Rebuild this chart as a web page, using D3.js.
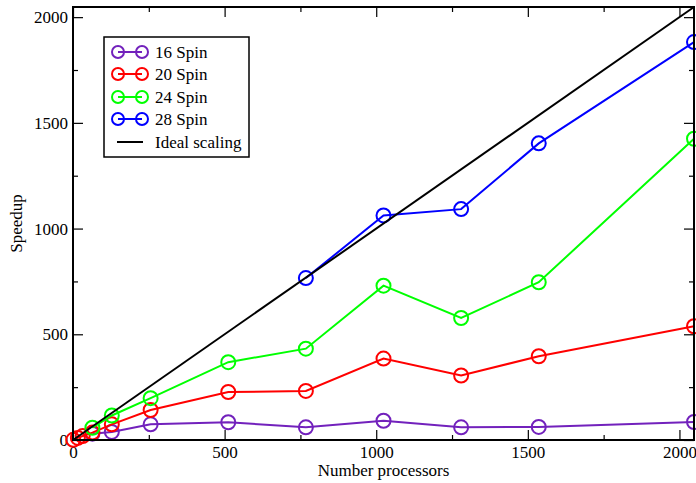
<!DOCTYPE html>
<html>
<head>
<meta charset="utf-8">
<script src="https://cdn.jsdelivr.net/npm/d3@7"></script>
<style>
  html, body { margin: 0; padding: 0; background: #fff; }
  svg { display: block; }
  text { font-family: "Liberation Serif", "Times New Roman", serif; fill: #000; }
</style>
</head>
<body>
<svg id="chart" width="696" height="483"></svg>
<script>
// ---- data ----
const seriesNames = ["16 Spin", "20 Spin", "24 Spin", "28 Spin"];
const seriesColors = ["#7221bc", "#ff0000", "#00ff00", "#0000ff"];
const procs16 = [64, 128, 256, 512, 768, 1024, 1280, 1536, 2048];
const speed16 = [30, 38, 74, 84, 60, 91, 60, 62, 85];
const procs20 = [1, 16, 32, 64, 128, 256, 512, 768, 1024, 1280, 1536, 2048];
const speed20 = [1, 10, 19, 35, 74, 142, 227, 232, 385, 305, 396, 538];
const procs24 = [64, 128, 256, 512, 768, 1024, 1280, 1536, 2048];
const speed24 = [58, 116, 198, 368, 432, 730, 577, 746, 1425];
const procs28 = [768, 1024, 1280, 1536, 2048];
const speed28 = [766, 1062, 1092, 1403, 1882];
const idealProcs = [0, 2048];
const idealSpeed = [0, 2048];
const xTickLabels = [0, 500, 1000, 1500, 2000];
const yTickLabels = [0, 500, 1000, 1500, 2000];
const minorTicks = [250, 750, 1250, 1750];
const idealLabel = "Ideal scaling";
const xTitle = "Number processors";
const yTitle = "Speedup";

const allProcs = [procs16, procs20, procs24, procs28];
const allSpeed = [speed16, speed20, speed24, speed28];

// ---- layout ----
const svg = d3.select("#chart");
const pL = 73, pR = 694, pT = 7, pB = 440;
const fs = "17px";
const x = d3.scaleLinear().domain([0, 2048]).range([pL, pR]);
const y = d3.scaleLinear().domain([0, 2048]).range([pB, pT]);

const majorLen = 10, minorLen = 5;

function addAxis(axisGen, transform, ticks, len, labels) {
  const g = svg.append("g").attr("transform", transform)
    .call(axisGen.tickValues(ticks).tickSizeInner(-len).tickSizeOuter(0)
      .tickFormat(labels ? d3.format("d") : () => ""));
  g.select(".domain").remove();
  g.selectAll(".tick line").attr("stroke", "#000").attr("stroke-width", 1.2);
  g.selectAll(".tick text").style("font-family", '"Liberation Serif", serif').style("font-size", fs).attr("fill", "#000");
  return g;
}
const gxb = addAxis(d3.axisBottom(x), `translate(0,${pB})`, xTickLabels, majorLen, true);
gxb.selectAll(".tick text").attr("y", 6).attr("dy", "0.71em");
addAxis(d3.axisBottom(x), `translate(0,${pB})`, minorTicks, minorLen, false);
addAxis(d3.axisTop(x), `translate(0,${pT})`, xTickLabels, majorLen, false);
addAxis(d3.axisTop(x), `translate(0,${pT})`, minorTicks, minorLen, false);
const gyl = addAxis(d3.axisLeft(y), `translate(${pL},0)`, yTickLabels, majorLen, true);
gyl.selectAll(".tick text").attr("x", -5);
addAxis(d3.axisLeft(y), `translate(${pL},0)`, minorTicks, minorLen, false);
addAxis(d3.axisRight(y), `translate(${pR},0)`, yTickLabels, majorLen, false);
addAxis(d3.axisRight(y), `translate(${pR},0)`, minorTicks, minorLen, false);

const plot = svg.append("g");
const line = d3.line().x(d => x(d[0])).y(d => y(d[1]));

allProcs.forEach((px, i) => {
  const pts = px.map((p, j) => [p, allSpeed[i][j]]);
  plot.append("path").attr("d", line(pts)).attr("fill", "none")
    .attr("stroke", seriesColors[i]).attr("stroke-width", 2);
  plot.selectAll(null).data(pts).enter().append("circle")
    .attr("cx", d => x(d[0])).attr("cy", d => y(d[1])).attr("r", 7)
    .attr("fill", "none").attr("stroke", seriesColors[i]).attr("stroke-width", 2);
});
plot.append("path")
  .attr("d", line(idealProcs.map((p, j) => [p, idealSpeed[j]])))
  .attr("fill", "none").attr("stroke", "#000").attr("stroke-width", 2);

svg.append("rect").attr("x", pL).attr("y", pT).attr("width", pR - pL).attr("height", pB - pT)
  .attr("fill", "none").attr("stroke", "#000").attr("stroke-width", 2);

svg.append("text").attr("x", (pL + pR) / 2).attr("y", 476).attr("text-anchor", "middle")
  .style("font-size", fs).text(xTitle);
svg.append("text").attr("transform", `translate(22,${(pT + pB) / 2}) rotate(-90)`)
  .attr("text-anchor", "middle").style("font-size", fs).text(yTitle);

const lg = svg.append("g");
lg.append("rect").attr("x", 104).attr("y", 37).attr("width", 145).attr("height", 120)
  .attr("fill", "#fff").attr("stroke", "#000").attr("stroke-width", 1.5);
const rowY = [52, 74, 97, 119, 142];
seriesNames.forEach((name, i) => {
  const yy = rowY[i];
  lg.append("line").attr("x1", 118).attr("x2", 142).attr("y1", yy).attr("y2", yy)
    .attr("stroke", seriesColors[i]).attr("stroke-width", 2);
  [118, 142].forEach(cx => lg.append("circle").attr("cx", cx).attr("cy", yy).attr("r", 6)
    .attr("fill", "none").attr("stroke", seriesColors[i]).attr("stroke-width", 2));
  lg.append("text").attr("x", 155).attr("y", yy).attr("dy", "0.35em").style("font-size", fs).text(name);
});
lg.append("line").attr("x1", 117).attr("x2", 143).attr("y1", rowY[4]).attr("y2", rowY[4])
  .attr("stroke", "#000").attr("stroke-width", 2);
lg.append("text").attr("x", 155).attr("y", rowY[4]).attr("dy", "0.35em").style("font-size", fs).text(idealLabel);
</script>
</body>
</html>
